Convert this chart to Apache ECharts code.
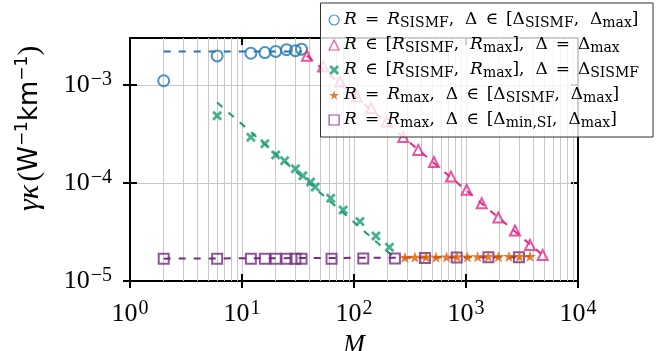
<!DOCTYPE html>
<html>
<head>
<meta charset="utf-8">
<script src="https://cdn.jsdelivr.net/npm/echarts@6/dist/echarts.min.js"></script>
<style>
  html, body { margin: 0; padding: 0; background: #fff; }
  #chart { width: 671px; height: 351px; }
</style>
</head>
<body>
<div id="chart"></div>
<script>
// values: M on x, gamma*kappa on y
const sismfM   = [2, 6, 12, 16, 20, 25, 30, 34];
const sismfVal = [1.10e-3, 1.97e-3, 2.10e-3, 2.13e-3, 2.19e-3, 2.28e-3, 2.23e-3, 2.31e-3];
const sismfLine = [[2, 2.19e-3], [34, 2.19e-3]];

const dmaxM   = [38, 53, 75, 106, 142, 196, 275, 375, 518, 734, 1014, 1381, 1944, 2738, 3728, 4840];
const dmaxVal = [1.98e-3, 1.54e-3, 1.08e-3, 7.6e-4, 5.8e-4, 4.22e-4, 2.93e-4, 2.17e-4, 1.63e-4, 1.16e-4, 8.5e-5, 6.2e-5, 4.43e-5, 3.27e-5, 2.33e-5, 1.84e-5];
const dmaxLine = [[38, 1.98e-3], [4840, 1.84e-5]];

const dsisM   = [6, 12, 16, 20, 24, 30, 35, 41, 45, 62, 80, 113, 157, 207];
const dsisVal = [4.83e-4, 2.92e-4, 2.50e-4, 1.93e-4, 1.68e-4, 1.39e-4, 1.18e-4, 1.02e-4, 9.1e-5, 6.98e-5, 5.29e-5, 4.03e-5, 2.88e-5, 2.21e-5];
const dsisLine = [[6, 6.6e-4], [235, 1.69e-5]];

const rmaxM   = [285, 350, 440, 540, 670, 830, 1030, 1270, 1580, 1950, 2420, 3000, 3730];
const rmaxVal = [1.74e-5, 1.75e-5, 1.76e-5, 1.75e-5, 1.76e-5, 1.77e-5, 1.76e-5, 1.77e-5, 1.78e-5, 1.77e-5, 1.78e-5, 1.78e-5, 1.79e-5];
const rmaxLine = [[285, 1.74e-5], [3730, 1.79e-5]];

const minsiM   = [2, 6, 12, 16, 20, 25, 30, 34, 63, 121, 232, 430, 826, 1585, 2972];
const minsiVal = [1.69e-5, 1.69e-5, 1.69e-5, 1.69e-5, 1.69e-5, 1.69e-5, 1.69e-5, 1.69e-5, 1.69e-5, 1.70e-5, 1.70e-5, 1.72e-5, 1.74e-5, 1.75e-5, 1.75e-5];
const minsiLine = [[2, 1.69e-5], [2972, 1.75e-5]];

// minor grid positions
const xMinor = [2, 3, 4, 5, 6, 7, 8, 9, 20, 30, 40, 50, 60, 70, 80, 90, 200, 300, 400, 500, 600, 700, 800, 900, 2000, 3000, 4000, 5000, 6000, 7000, 8000, 9000];
const yMinor = [2e-5, 3e-5, 4e-5, 5e-5, 6e-5, 7e-5, 8e-5, 9e-5, 2e-4, 3e-4, 4e-4, 5e-4, 6e-4, 7e-4, 8e-4, 9e-4, 2e-3];

const serif = 'Liberation Serif';
const lserif = 'DejaVu Serif';
const colors = { blue: '#1f77b4', pink: '#e7298a', green: '#1b9e77', orange: '#d95f02', purple: '#762a83' };

const legendText = {
  sismf: '{i|R}{o|=}{i|R}{s|SISMF}{c|,}Δ{o|∈}[Δ{s|SISMF}{c|,}Δ{s|max}]',
  dmax:  '{i|R}{o|∈}[{i|R}{s|SISMF}{c|,}{i|R}{s|max}]{c|,}Δ{o|=}Δ{s|max}',
  dsis:  '{i|R}{o|∈}[{i|R}{s|SISMF}{c|,}{i|R}{s|max}]{c|,}Δ{o|=}Δ{s|SISMF}',
  rmax:  '{i|R}{o|=}{i|R}{s|max}{c|,}Δ{o|∈}[Δ{s|SISMF}{c|,}Δ{s|max}]',
  minsi: '{i|R}{o|=}{i|R}{s|max}{c|,}Δ{o|∈}[Δ{s|min,SI}{c|,}Δ{s|max}]'
};

const xPath = 'path://M0,2L2,0L5,3L8,0L10,2L7,5L10,8L8,10L5,7L2,10L0,8L3,5Z';
const starPath = 'path://M50,0L61,35L98,35L68,57L79,91L50,70L21,91L32,57L2,35L39,35Z';

function zip(xs, ys) { return xs.map((x, i) => [x, ys[i]]); }

function powLabel(v) {
  const e = Math.round(Math.log10(v));
  return '{b|10}{e|' + (e < 0 ? '\u2212' + (-e) : e) + '}';
}
const tickRich = {
  b: { fontFamily: serif, fontSize: 26, lineHeight: 30, color: '#000' },
  e: { fontFamily: serif, fontSize: 20, lineHeight: 16, verticalAlign: 'top', padding: [0, 0, 0, 1], color: '#000' }
};

function scatter(name, xs, ys, symbol, size, color, hollow) {
  return {
    name: name, type: 'scatter', z: 3,
    data: zip(xs, ys),
    symbol: symbol, symbolSize: size, symbolKeepAspect: true,
    itemStyle: hollow
      ? { color: 'rgba(0,0,0,0)', borderColor: color, borderWidth: 2 }
      : { color: color },
    emphasis: { disabled: true }
  };
}
function dashed(line, color) {
  return {
    type: 'line', z: 2, data: line, symbol: 'none', silent: true,
    lineStyle: { color: color, width: 2, type: [7, 8] }
  };
}

const gridLine = { color: '#c8c8c8', width: 1 };
function xAxisBase(pos, inside, extra) {
  return Object.assign({
    type: 'log', logBase: 10, min: 1, max: 10000, position: pos,
    axisLine: { show: false },
    axisTick: { show: true, inside: inside, length: 7, lineStyle: { color: '#000', width: 2 } },
    axisLabel: { show: false },
    splitLine: { show: false }
  }, extra || {});
}
function yAxisBase(pos, inside, extra) {
  return Object.assign({
    type: 'log', logBase: 10, min: 1e-5, max: 3e-3, position: pos,
    axisLine: { show: false },
    axisTick: { show: true, inside: inside, length: 7, lineStyle: { color: '#000', width: 2 } },
    axisLabel: { show: false },
    splitLine: { show: false }
  }, extra || {});
}

const chart = echarts.init(document.getElementById('chart'), null, { renderer: 'canvas' });

const option = {
  animation: false,
  grid: { left: 130, right: 93, top: 38, bottom: 70, containLabel: false, outerBoundsMode: 'none' },
  xAxis: [
    xAxisBase('bottom', false, {
      axisLine: { show: true, lineStyle: { color: '#000', width: 2 } },
      axisLabel: { show: true, margin: 18, formatter: powLabel, rich: tickRich, showMaxLabel: true },
      splitLine: { show: true, lineStyle: gridLine },
      name: 'M', nameLocation: 'middle', nameGap: 48,
      nameTextStyle: { fontFamily: serif, fontStyle: 'italic', fontSize: 26, color: '#000' }
    }),
    xAxisBase('bottom', true),
    xAxisBase('top', true, { axisLine: { show: true, lineStyle: { color: '#000', width: 2 } } })
  ],
  yAxis: [
    yAxisBase('left', false, {
      axisLine: { show: true, lineStyle: { color: '#000', width: 2 } },
      axisLabel: { show: true, margin: 18, formatter: powLabel, rich: tickRich, showMaxLabel: false },
      splitLine: { show: true, lineStyle: gridLine },
      name: '{g|γκ} {p|(}{w|W}{e|\u22121}{w|km}{e|\u22121}{p|)}',
      nameLocation: 'middle', nameGap: 84, nameRotate: 90,
      nameTextStyle: {
        padding: [0, 0, 0, 62],
        rich: {
          g: { fontFamily: serif, fontStyle: 'italic', fontSize: 30, lineHeight: 32, color: '#000' },
          p: { fontFamily: serif, fontSize: 29, lineHeight: 32, color: '#000' },
          w: { fontFamily: 'DejaVu Sans', fontSize: 26, lineHeight: 32, color: '#000' },
          e: { fontFamily: 'DejaVu Sans', fontSize: 17, lineHeight: 17, verticalAlign: 'top', color: '#000' }
        }
      }
    }),
    yAxisBase('left', true),
    yAxisBase('right', true, { axisLine: { show: true, lineStyle: { color: '#000', width: 2 } } })
  ],
  legend: {
    orient: 'vertical', right: 18, top: 3,
    padding: [7, 14, 7, 8],
    itemWidth: 10, itemHeight: 10, itemGap: 5,
    backgroundColor: 'rgba(255,255,255,0.8)',
    borderColor: '#333', borderWidth: 1,
    selectedMode: false,
    data: [
      { name: 'sismf', icon: 'circle', itemStyle: { color: 'rgba(0,0,0,0)', borderColor: colors.blue, borderWidth: 1.2 } },
      { name: 'dmax', icon: 'triangle', itemStyle: { color: 'rgba(0,0,0,0)', borderColor: colors.pink, borderWidth: 1.2 } },
      { name: 'dsis', icon: xPath, itemStyle: { color: colors.green, borderWidth: 0 } },
      { name: 'rmax', icon: starPath, itemStyle: { color: colors.orange, borderWidth: 0 } },
      { name: 'minsi', icon: 'rect', itemStyle: { color: 'rgba(0,0,0,0)', borderColor: colors.purple, borderWidth: 1.2 } }
    ],
    formatter: n => legendText[n],
    textStyle: {
      fontFamily: lserif, fontSize: 17, lineHeight: 20, color: '#000',
      rich: {
        i: { fontFamily: lserif, fontStyle: 'italic', fontSize: 17, lineHeight: 20, color: '#000' },
        s: { fontFamily: lserif, fontSize: 14, lineHeight: 13, verticalAlign: 'bottom', color: '#000' },
        o: { fontFamily: lserif, fontSize: 17, lineHeight: 20, padding: [0, 8, 0, 8], color: '#000' },
        c: { fontFamily: lserif, fontSize: 17, lineHeight: 20, padding: [0, 11, 0, 0], color: '#000' }
      }
    }
  },
  series: [
    Object.assign(dashed(minsiLine, colors.purple), {
      markLine: {
        silent: true, symbol: 'none', z: 1, animation: false,
        label: { show: false },
        lineStyle: { color: '#c8c8c8', width: 1, type: 'solid' },
        emphasis: { disabled: true },
        data: xMinor.map(v => ({ xAxis: v })).concat(yMinor.map(v => ({ yAxis: v })))
      }
    }),
    dashed(sismfLine, colors.blue),
    dashed(dmaxLine, colors.pink),
    dashed(dsisLine, colors.green),
    dashed(rmaxLine, colors.orange),
    scatter('sismf', sismfM, sismfVal, 'circle', 11, colors.blue, true),
    scatter('dmax', dmaxM, dmaxVal, 'triangle', 10, colors.pink, true),
    scatter('dsis', dsisM, dsisVal, xPath, 10, colors.green, false),
    scatter('minsi', minsiM, minsiVal, 'rect', 10, colors.purple, true),
    scatter('rmax', rmaxM, rmaxVal, starPath, 12, colors.orange, false)
  ]
};

chart.setOption(option);
</script>
</body>
</html>
